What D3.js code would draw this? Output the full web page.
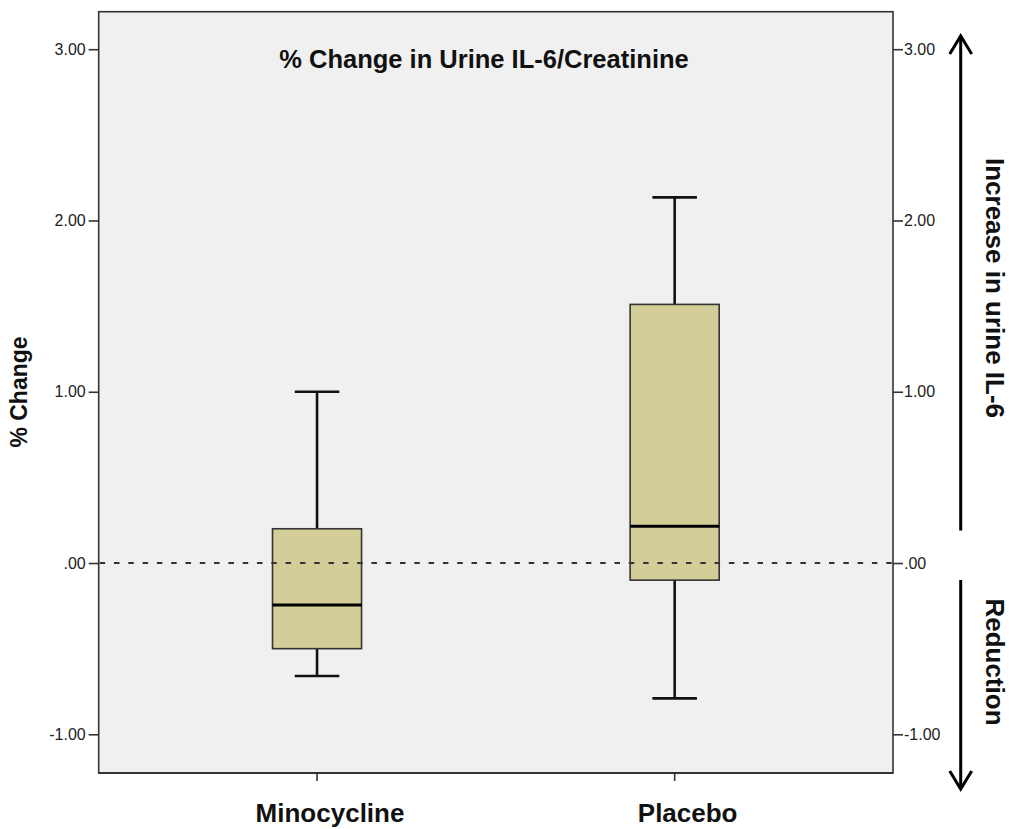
<!DOCTYPE html>
<html><head><meta charset="utf-8">
<script src="https://cdn.jsdelivr.net/npm/d3@7"></script>
<style>html,body{margin:0;padding:0;background:#fff;}svg{display:block;}</style>
</head><body>
<svg id="chart" width="1009" height="829"></svg>
<script>
const categories = ["Minocycline", "Placebo"];
const whiskerLow = [-0.66, -0.79];
const q1Values = [-0.50, -0.10];
const medianValues = [-0.245, 0.215];
const q3Values = [0.20, 1.51];
const whiskerHigh = [1.00, 2.135];
const tickValues = [-1, 0, 1, 2, 3];
const tickLabels = ["-1.00", ".00", "1.00", "2.00", "3.00"];
const titleText = "% Change in Urine IL-6/Creatinine";
const yTitle = "% Change";
const upLabel = "Increase in urine IL-6";
const downLabel = "Reduction";

const svg = d3.select("#chart");
const L = 98.7, R = 893, T = 11.7, B = 773;
const font = "'Liberation Sans', Arial, sans-serif";

const x = d3.scaleBand().domain(categories).range([L, R]).paddingInner(0.751).paddingOuter(0.486);
const y = d3.scaleLinear().domain([-1.226, 3.219]).range([B, T]);

svg.append("rect").attr("x", L).attr("y", T).attr("width", R - L).attr("height", B - T)
  .attr("fill", "#f0f0f0");

const boxes = categories.map((c, i) => ({c, lo: whiskerLow[i], q1: q1Values[i], med: medianValues[i], q3: q3Values[i], hi: whiskerHigh[i]}));

const g = svg.append("g");
const bw = x.bandwidth();
boxes.forEach(d => {
  const cx = x(d.c) + bw / 2;
  g.append("line").attr("x1", cx).attr("x2", cx).attr("y1", y(d.hi)).attr("y2", y(d.q3))
    .attr("stroke", "#111").attr("stroke-width", 2.6);
  g.append("line").attr("x1", cx).attr("x2", cx).attr("y1", y(d.q1)).attr("y2", y(d.lo))
    .attr("stroke", "#111").attr("stroke-width", 2.6);
  g.append("line").attr("x1", cx - bw / 4).attr("x2", cx + bw / 4).attr("y1", y(d.hi)).attr("y2", y(d.hi))
    .attr("stroke", "#111").attr("stroke-width", 2.6);
  g.append("line").attr("x1", cx - bw / 4).attr("x2", cx + bw / 4).attr("y1", y(d.lo)).attr("y2", y(d.lo))
    .attr("stroke", "#111").attr("stroke-width", 2.6);
  g.append("rect").attr("x", x(d.c)).attr("width", bw).attr("y", y(d.q3)).attr("height", y(d.q1) - y(d.q3))
    .attr("fill", "#d3ce98").attr("stroke", "#333").attr("stroke-width", 1.6);
});

svg.append("line").attr("x1", L + 1).attr("x2", R).attr("y1", y(0)).attr("y2", y(0))
  .attr("stroke", "#333").attr("stroke-width", 2).attr("stroke-dasharray", "5.5,8.8");

boxes.forEach(d => {
  svg.append("line").attr("x1", x(d.c)).attr("x2", x(d.c) + bw).attr("y1", y(d.med)).attr("y2", y(d.med))
    .attr("stroke", "#000").attr("stroke-width", 3);
});

svg.append("rect").attr("x", L).attr("y", T).attr("width", R - L).attr("height", B - T)
  .attr("fill", "none").attr("stroke", "#333").attr("stroke-width", 1.6);
svg.append("line").attr("x1", L).attr("x2", R).attr("y1", B).attr("y2", B).attr("stroke", "#333").attr("stroke-width", 2.2);

const fmt = v => tickLabels[tickValues.indexOf(v)];
const leftAxis = d3.axisLeft(y).tickValues(tickValues).tickFormat(fmt).tickSize(10).tickPadding(3);
const rightAxis = d3.axisRight(y).tickValues(tickValues).tickFormat(fmt).tickSize(10).tickPadding(1);
const bottomAxis = d3.axisBottom(x).tickSize(8).tickFormat("");

function styleAxis(sel) {
  sel.select(".domain").remove();
  sel.selectAll(".tick line").attr("stroke", "#333").attr("stroke-width", 1.6);
  sel.selectAll(".tick text").attr("fill", "#222").style("font-family", font).style("font-size", "16px");
}
svg.append("g").attr("transform", `translate(${L},0)`).call(leftAxis).call(styleAxis);
svg.append("g").attr("transform", `translate(${R},0)`).call(rightAxis).call(styleAxis);
svg.append("g").attr("transform", `translate(0,${B})`).call(bottomAxis).call(styleAxis);

categories.forEach(c => {
  svg.append("text").attr("x", x(c) + bw / 2 + 13).attr("y", 822).attr("text-anchor", "middle")
    .style("font-family", font).style("font-weight", "bold").style("font-size", "26px").attr("fill", "#111")
    .text(c);
});

svg.append("text").attr("x", 484).attr("y", 68).attr("text-anchor", "middle")
  .style("font-family", font).style("font-weight", "bold").style("font-size", "25.5px").attr("fill", "#111")
  .text(titleText);

svg.append("text").attr("transform", "translate(27,392) rotate(-90)").attr("text-anchor", "middle")
  .style("font-family", font).style("font-weight", "bold").style("font-size", "23px").attr("fill", "#111")
  .text(yTitle);

svg.append("text").attr("transform", "translate(986,288) rotate(90)").attr("text-anchor", "middle")
  .style("font-family", font).style("font-weight", "bold").style("font-size", "26px").attr("fill", "#111")
  .text(upLabel);
svg.append("text").attr("transform", "translate(986,662) rotate(90)").attr("text-anchor", "middle")
  .style("font-family", font).style("font-weight", "bold").style("font-size", "26px").attr("fill", "#111")
  .text(downLabel);

const ax = 960.7;
const arr = svg.append("g").attr("stroke", "#000").attr("stroke-width", 3).attr("fill", "none");
arr.append("line").attr("x1", ax).attr("x2", ax).attr("y1", 530.5).attr("y2", 36);
arr.append("path").attr("d", `M${ax - 11},54 L${ax},36 L${ax + 11},54`);
arr.append("line").attr("x1", ax).attr("x2", ax).attr("y1", 580).attr("y2", 789);
arr.append("path").attr("d", `M${ax - 11},771 L${ax},789 L${ax + 11},771`);
</script>
</body></html>
